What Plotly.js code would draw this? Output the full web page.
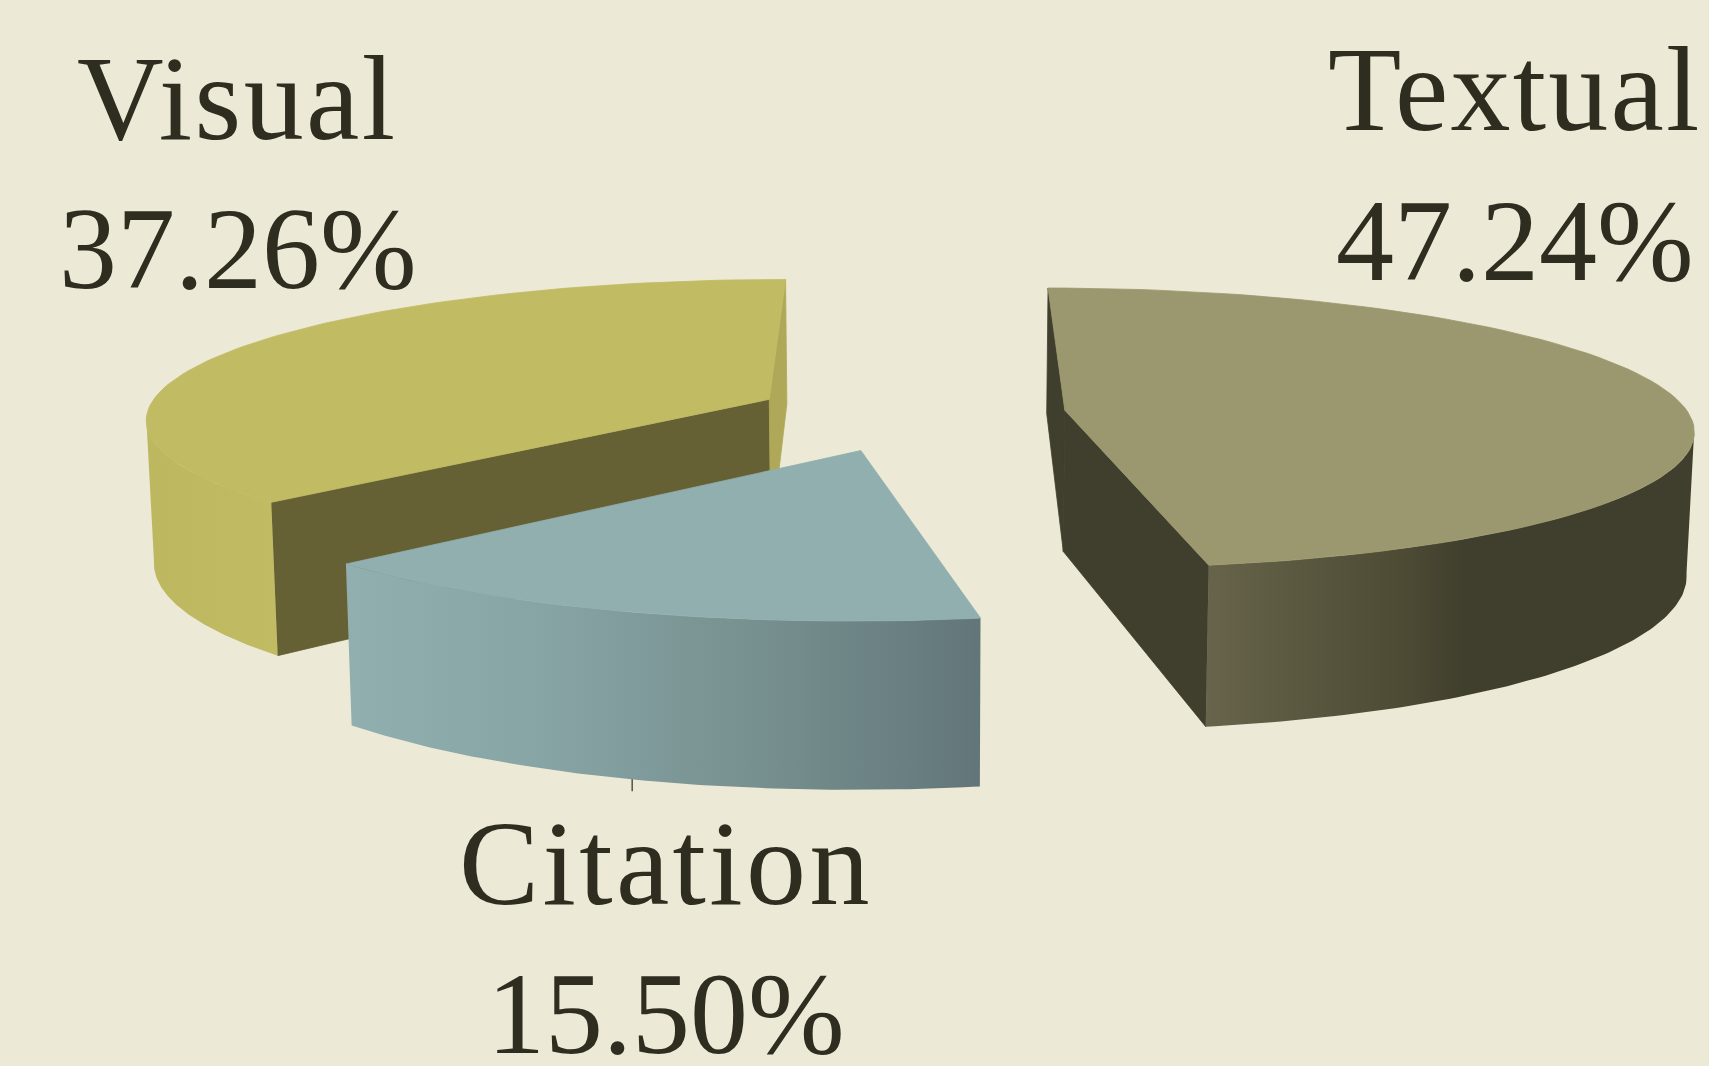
<!DOCTYPE html>
<html>
<head>
<meta charset="utf-8">
<script src="https://cdn.plot.ly/plotly-3.0.1.min.js"></script>
<style>html,body{margin:0;padding:0;background:#ECEAD6;overflow:hidden}</style>
</head>
<body>
<div id="chart" style="width:1709px;height:1066px"></div>
<script>
// Data
var categories = ['Textual', 'Citation', 'Visual'];
var shares = [47.24, 15.50, 37.26];

// Styling per slice
var topColors = ['#9B986F', '#91AFAF', '#C1BB63'];
var innerColors = ['#403F2D', '#91AFAF', '#656135'];
var backWallColors = ['#403F2D', '#91AFAF', '#AEA858'];
var wallScales = [
  [[0, '#67644B'], [0.4, '#4E4B35'], [0.53, '#403F2D'], [1, '#403F2D']],
  [[0, '#91AFAF'], [0.3, '#88A5A5'], [0.7, '#748C8C'], [1, '#62767A']],
  [[0, '#BDB760'], [1, '#C1BB63']]
];
// explode distance per slice, relative to pie radius
var pull = [0.241, 0.275, 0.258];
// share of each slice's arc where the outer wall stops being visible
var wallVisibleFrom = [0.576, 0, 0], wallVisibleTo = [1, 1, 0.27];

// Projection of the tilted pie (viewport units)
var VW = 1568, VH = 978;
var cx = 840, cy = 379, fx = 572, fy = 127, persp = 0.127, depth = 130, shrink = 0.99;

function project(X, Y, lower) {
  var w = 1 + persp * Y;
  var sx = fx * X / w, sy = cy - fy * Y / w;
  if (lower) { sx *= shrink; sy += depth / w; }
  return [cx + sx, sy];
}
function polar(a, o) {
  return [o[0] + Math.sin(a), o[1] + Math.cos(a)];
}
function poly(list, name, color, gradient) {
  var closed = list.concat([list[0]]);
  var tr = { type: 'scatter', mode: 'lines', fill: 'toself', name: name,
             x: closed.map(function (p) { return p[0]; }),
             y: closed.map(function (p) { return p[1]; }),
             line: { width: gradient ? 0 : 0.8, color: color }, fillcolor: color,
             hoverinfo: 'name', showlegend: false };
  if (gradient) tr.fillgradient = gradient;
  return tr;
}

var total = shares.reduce(function (a, b) { return a + b; }, 0);
var slices = [], cum = 0;
shares.forEach(function (v, i) {
  var a0 = cum / total * 2 * Math.PI;
  cum += v;
  var a1 = cum / total * 2 * Math.PI;
  var mid = (a0 + a1) / 2;
  slices.push({ a0: a0, a1: a1, apex: [pull[i] * Math.sin(mid), pull[i] * Math.cos(mid)] });
});

function rim(s, from, to, lower) {
  var out = [], n = 90;
  for (var k = 0; k <= n; k++) {
    var p = polar(from + (to - from) * k / n, s.apex);
    out.push(project(p[0], p[1], lower));
  }
  return out;
}

var traces = [];

// Small leader tick below the Citation slice, behind the slices
var leaderX = [580, 580], leaderY = [700, 726];
traces.push({ type: 'scatter', mode: 'lines', x: leaderX, y: leaderY,
  line: { color: '#2F2D20', width: 1.2 }, hoverinfo: 'skip', showlegend: false });

function addSlice(i, straightWalls) {
  var s = slices[i], name = categories[i], span = s.a1 - s.a0;
  if (straightWalls) {
    var A = project(s.apex[0], s.apex[1], false), Al = project(s.apex[0], s.apex[1], true);
    var p0 = polar(s.a0, s.apex), p1 = polar(s.a1, s.apex);
    traces.push(poly([A, project(p0[0], p0[1], false), project(p0[0], p0[1], true), Al], name,
      i === 0 ? backWallColors[i] : innerColors[i]));
    traces.push(poly([A, project(p1[0], p1[1], false), project(p1[0], p1[1], true), Al], name,
      i === 0 ? innerColors[i] : backWallColors[i]));
  }
  var from = s.a0 + wallVisibleFrom[i] * span, to = s.a0 + wallVisibleTo[i] * span;
  var upper = rim(s, from, to, false), lower = rim(s, from, to, true);
  var xs = upper.concat(lower).map(function (p) { return p[0]; });
  var grad = { type: 'horizontal', colorscale: wallScales[i],
               start: Math.min.apply(null, xs), stop: Math.max.apply(null, xs) };
  traces.push(poly(upper.concat(lower.reverse()), name, wallScales[i][0][1], grad));
  var apex = project(s.apex[0], s.apex[1], false);
  traces.push(poly([apex].concat(rim(s, s.a0, s.a1, false)), name, topColors[i]));
}
addSlice(2, true);
addSlice(1, false);
addSlice(0, true);

// Text labels
var labelX = [1390, 611, 218], nameY = [82, 792, 90], valueY = [221, 930, 228];
var nameSpacing = [2.2, 3.4, 2.4];
var annotations = [];
categories.forEach(function (c, i) {
  var f = { family: '"Liberation Serif", serif', size: 120, color: '#2F2D20' };
  var fv = { family: '"Liberation Serif", serif', size: 116, color: '#2F2D20' };
  annotations.push({ x: labelX[i], y: nameY[i], showarrow: false, font: f, xanchor: 'center', yanchor: 'middle',
    text: '<span style="letter-spacing:' + nameSpacing[i] + 'px">' + c + '</span>' });
  annotations.push({ x: labelX[i], y: valueY[i], text: shares[i].toFixed(2) + '%', showarrow: false, font: fv, xanchor: 'center', yanchor: 'middle' });
});

Plotly.newPlot('chart', traces, {
  width: 1709, height: 1066, margin: { l: 0, r: 0, t: 0, b: 0 },
  paper_bgcolor: '#ECEAD6', plot_bgcolor: '#ECEAD6', showlegend: false,
  xaxis: { range: [0, VW], visible: false, fixedrange: true },
  yaxis: { range: [VH, 0], visible: false, fixedrange: true },
  annotations: annotations
}, { displayModeBar: false, staticPlot: true });
</script>
</body>
</html>
